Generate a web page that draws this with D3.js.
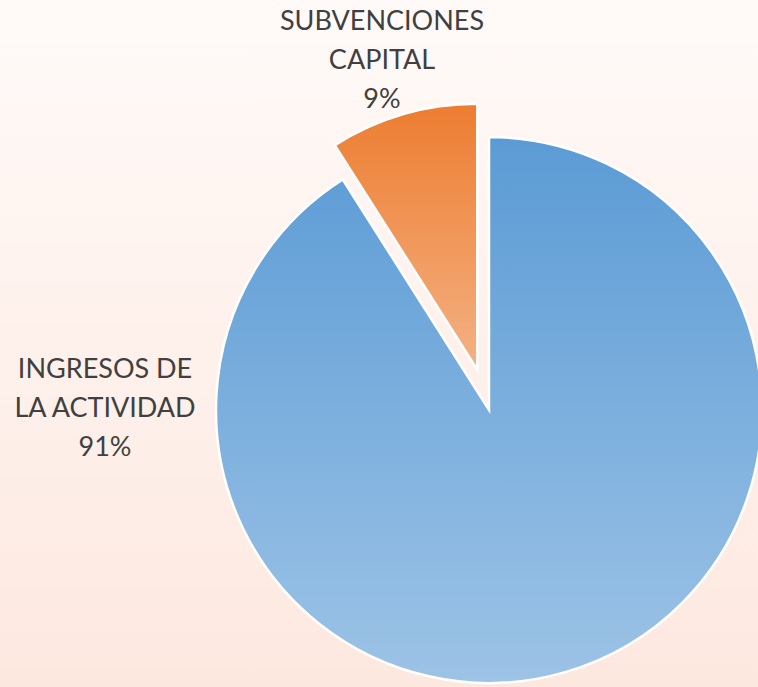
<!DOCTYPE html>
<html>
<head>
<meta charset="utf-8">
<script src="https://cdn.jsdelivr.net/npm/d3@7"></script>
<style>
  html, body { margin: 0; padding: 0; overflow: hidden; }
  svg { display: block; }
</style>
</head>
<body>
<div id="chart"></div>
<script>
const CATEGORIES = ['INGRESOS DE LA ACTIVIDAD', 'SUBVENCIONES CAPITAL'];
const LABEL_LINES = [['INGRESOS DE', 'LA ACTIVIDAD'], ['SUBVENCIONES', 'CAPITAL']];
const VALUES = [91, 9];
const PERCENT_LABELS = ['91%', '9%'];

const WIDTH = 758;
const HEIGHT = 687;
const CENTER = { x: 489, y: 410 };
const EXPLODE = [0, 42];
const SLICE_RADIUS = [273, 266];
const GRADIENTS = [
  { top: '#5b9bd5', bottom: '#9dc3e6' },
  { top: '#ed7d31', bottom: '#f4b183' }
];
const TEXT_COLOR = '#404040';
const FONT = 'Lato, "Open Sans", sans-serif';
const FONT_SIZE = 27;
const LINE_H = 39;

const svg = d3.select('#chart')
  .append('svg')
    .attr('width', WIDTH)
    .attr('height', HEIGHT);

const defs = svg.append('defs');

const bg = defs.append('linearGradient')
  .attr('id', 'bg')
  .attr('x1', 0).attr('y1', 0).attr('x2', 0).attr('y2', 1);
bg.append('stop').attr('offset', '0%').attr('stop-color', '#fffaf8');
bg.append('stop').attr('offset', '100%').attr('stop-color', '#fde8e0');

GRADIENTS.forEach((g, i) => {
  const lg = defs.append('linearGradient')
    .attr('id', 'slice' + i)
    .attr('x1', 0).attr('y1', 0).attr('x2', 0).attr('y2', 1);
  lg.append('stop').attr('offset', '0%').attr('stop-color', g.top);
  lg.append('stop').attr('offset', '100%').attr('stop-color', g.bottom);
});

svg.append('rect')
  .attr('width', WIDTH)
  .attr('height', HEIGHT)
  .attr('fill', 'url(#bg)');

const data = CATEGORIES.map((c, i) => ({ name: c, value: VALUES[i] }));

const pie = d3.pie()
  .sort(null)
  .value(d => d.value);

const arcs = pie(data);

const g = svg.append('g')
  .attr('transform', `translate(${CENTER.x}, ${CENTER.y})`);

g.selectAll('path')
  .data(arcs)
  .enter()
  .append('path')
    .attr('transform', d => {
      const mid = (d.startAngle + d.endAngle) / 2;
      const off = EXPLODE[d.index];
      return `translate(${off * Math.sin(mid)}, ${-off * Math.cos(mid)})`;
    })
    .attr('d', d => d3.arc().innerRadius(0).outerRadius(SLICE_RADIUS[d.index])(d))
    .attr('fill', d => `url(#slice${d.index})`)
    .attr('stroke', '#ffffff')
    .attr('stroke-width', 2.5)
    .attr('stroke-linejoin', 'miter');

// label positions (relative to pie centre)
const labelPos = [
  [-384, -2],
  [-107, -350]
];

labelPos.forEach((p, i) => {
  const lines = LABEL_LINES[i].concat([PERCENT_LABELS[i]]);
  const t = g.append('text')
    .attr('x', p[0])
    .attr('y', p[1] - (lines.length - 1) * LINE_H / 2)
    .attr('text-anchor', 'middle')
    .attr('font-family', FONT)
    .attr('font-size', FONT_SIZE)
    .attr('fill', TEXT_COLOR);
  lines.forEach((l, j) => {
    t.append('tspan')
      .attr('x', p[0])
      .attr('dy', j === 0 ? '0.35em' : LINE_H)
      .text(l);
  });
});
</script>
</body>
</html>
